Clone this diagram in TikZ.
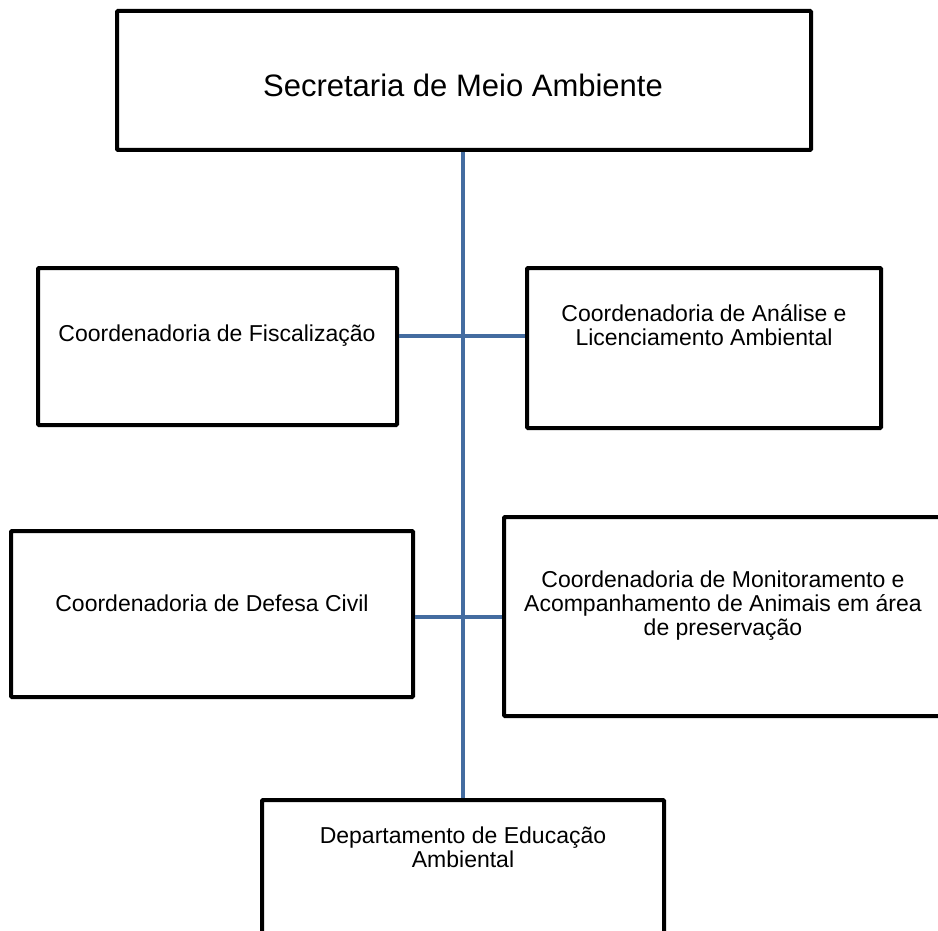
\documentclass[tikz,border=0pt]{standalone}
\usepackage{fontspec}
\setmainfont{Liberation Sans}
\usepackage{tikz}
\definecolor{linkblue}{RGB}{68,108,160}

\begin{document}
\begin{tikzpicture}
[
  x=1pt, y=-1pt,
  caixa/.style={draw=black, line width=4pt, inner sep=0pt, rounded corners=1pt},
  texto/.style={align=center, inner sep=0pt, font=\fontsize{23}{24}\selectfont},
  titulo/.style={align=center, inner sep=0pt, font=\fontsize{31}{34}\selectfont},
  ligacao/.style={draw=linkblue, line width=4pt}
]

\useasboundingbox (0,0) rectangle (938,931);

\node[caixa, minimum width=694, minimum height=139] (sec) at (464,80.5) {};
\node[titulo] (sec-t) at (463,85) {Secretaria de Meio Ambiente};

\node[caixa, minimum width=359, minimum height=157] (fisc) at (217.5,346.5) {};
\node[texto] (fisc-t) at (217,336) {Coordenadoria de Fiscalização};

\node[caixa, minimum width=354, minimum height=160] (anal) at (704,348) {};
\node[texto] (anal-t) at (704,325) {Coordenadoria de Análise e\\Licenciamento Ambiental};

\node[caixa, minimum width=402, minimum height=166] (defesa) at (212,614) {};
\node[texto] (defesa-t) at (212,603) {Coordenadoria de Defesa Civil};

\node[caixa, minimum width=456, minimum height=199] (monit) at (732,616.5) {};
\node[texto] (monit-t) at (723,606) {Coordenadoria de Monitoramento e\\Acompanhamento de Animais em área\\de preservação};

\node[caixa, minimum width=402, minimum height=160] (edu) at (463,880) {};
\node[texto] (edu-t) at (463,847) {Departamento de Educação\\Ambiental};

\coordinate (j1) at (463,336);
\coordinate (j2) at (463,617);

\draw[ligacao] (sec.south -| j1) -- (edu.north -| j1);
\draw[ligacao] (j1 -| fisc.east) -- (j1 -| anal.west);
\draw[ligacao] (j2 -| defesa.east) -- (j2 -| monit.west);

\end{tikzpicture}
\end{document}
